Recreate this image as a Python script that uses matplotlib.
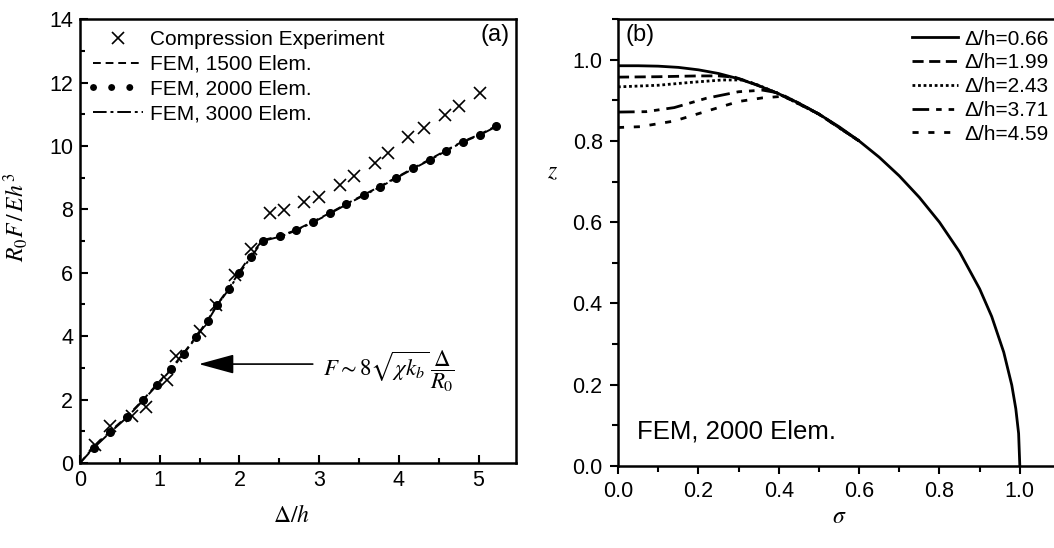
import matplotlib
matplotlib.use("Agg")
import matplotlib.pyplot as plt
from matplotlib.lines import Line2D
from matplotlib.ticker import MultipleLocator

plt.rcParams['font.family'] = ['Liberation Sans', 'DejaVu Sans']
plt.rcParams['mathtext.fontset'] = 'stix'

# (a) compression experiment
exp_x = [0.19, 0.38, 0.65, 0.83, 1.09, 1.21, 1.51, 1.71, 1.95, 2.14, 2.38, 2.56,
         2.81, 3.00, 3.26, 3.44, 3.70, 3.87, 4.12, 4.31, 4.58, 4.76, 5.02]
exp_y = [0.56, 1.16, 1.47, 1.77, 2.63, 3.37, 4.15, 4.98, 5.92, 6.76, 7.87, 7.97,
         8.24, 8.39, 8.76, 9.05, 9.45, 9.78, 10.29, 10.57, 10.97, 11.25, 11.68]

# (a) FEM curves
fem_x = [0.0, 0.17, 0.38, 0.59, 0.79, 0.96, 1.14, 1.30, 1.46, 1.60, 1.72, 1.87,
         2.00, 2.14, 2.29, 2.51, 2.71, 2.92, 3.13, 3.34, 3.56, 3.76, 3.97, 4.18,
         4.39, 4.59, 4.80, 5.02, 5.22]
fem2000_y = [0.0, 0.48, 0.98, 1.45, 1.98, 2.45, 2.95, 3.45, 3.98, 4.48, 4.98, 5.50,
             6.00, 6.50, 7.01, 7.15, 7.34, 7.60, 7.87, 8.16, 8.45, 8.71, 9.00, 9.29,
             9.57, 9.85, 10.13, 10.36, 10.62]
fem1500_y = [0.0, 0.50, 1.00, 1.47, 1.99, 2.47, 2.97, 3.47, 3.99, 4.50, 5.00, 5.52,
             6.03, 6.55, 7.03, 7.16, 7.35, 7.61, 7.88, 8.17, 8.46, 8.72, 9.01, 9.30,
             9.58, 9.86, 10.14, 10.37, 10.63]
fem3000_y = [0.0, 0.47, 0.97, 1.44, 1.97, 2.44, 2.94, 3.44, 3.97, 4.47, 4.97, 5.49,
             5.98, 6.48, 7.00, 7.14, 7.33, 7.59, 7.86, 8.15, 8.44, 8.70, 8.99, 9.28,
             9.56, 9.84, 10.12, 10.35, 10.61]

# (b) profiles; all curves join the 0.66 one on the outer part
sig_066 = [0.0, 0.05, 0.10, 0.15, 0.20, 0.25, 0.30, 0.35, 0.40, 0.45, 0.50, 0.55,
           0.60, 0.65, 0.70, 0.75, 0.80, 0.85, 0.90, 0.93, 0.96, 0.98, 0.99, 0.997, 1.0]
z_066 = [0.985, 0.985, 0.984, 0.981, 0.975, 0.966, 0.953, 0.936, 0.916, 0.893, 0.866,
         0.835, 0.800, 0.760, 0.714, 0.661, 0.600, 0.527, 0.436, 0.368, 0.280, 0.199,
         0.141, 0.080, 0.0]
sig_199 = [0.0, 0.10, 0.20, 0.25, 0.29, 0.33, 0.40, 0.50, 0.60]
z_199 = [0.957, 0.958, 0.960, 0.960, 0.957, 0.944, 0.916, 0.866, 0.800]
sig_243 = [0.0, 0.10, 0.18, 0.26, 0.31, 0.35, 0.40, 0.50, 0.60]
z_243 = [0.933, 0.937, 0.944, 0.950, 0.950, 0.937, 0.916, 0.866, 0.800]
sig_371 = [0.0, 0.07, 0.14, 0.22, 0.30, 0.36, 0.40, 0.45, 0.50, 0.60]
z_371 = [0.871, 0.872, 0.882, 0.905, 0.921, 0.925, 0.918, 0.893, 0.866, 0.800]
sig_459 = [0.0, 0.055, 0.14, 0.22, 0.30, 0.36, 0.40, 0.43, 0.50, 0.60]
z_459 = [0.833, 0.835, 0.849, 0.873, 0.897, 0.906, 0.909, 0.903, 0.866, 0.800]

fig = plt.figure(figsize=(10.54, 5.48), dpi=100)
ax1 = fig.add_axes([0.0759, 0.1551, 0.4137, 0.810])
ax2 = fig.add_axes([0.5863, 0.1496, 0.4194, 0.8157])

# ---- panel (a)
ax1.plot(fem_x, fem1500_y, color='k', lw=1.4, ls=(0, (4, 2.5)))
ax1.plot(fem_x, fem3000_y, color='k', lw=1.4, ls=(0, (7, 2, 1.5, 2)))
ax1.plot(fem_x[1:], fem2000_y[1:], 'o', color='k', ms=5.5, ls='none')
ax1.plot(exp_x, exp_y, 'x', color='k', ms=8, mew=1.2, ls='none')

handles = [
    Line2D([], [], marker='x', color='k', ms=8, mew=1.2, ls='none'),
    Line2D([], [], color='k', lw=1.4, ls=(0, (4, 2.5))),
    Line2D([], [], color='k', lw=5, ls=(0, (0.01, 2.6)), dash_capstyle='round'),
    Line2D([], [], color='k', lw=1.4, ls=(0, (7, 2, 1.5, 2))),
]
labels = ['Compression Experiment', 'FEM, 1500 Elem.', 'FEM, 2000 Elem.',
          'FEM, 3000 Elem.']
ax1.legend(handles, labels, loc='upper left', bbox_to_anchor=(0.03, 0.975),
           frameon=False, fontsize=15, handlelength=2.4, handletextpad=0.35,
           labelspacing=0.27, borderpad=0, borderaxespad=0, numpoints=1)

ax1.annotate('', xy=(1.49, 3.12), xytext=(2.92, 3.12),
             arrowprops=dict(arrowstyle='-|>,head_length=2.2,head_width=0.6',
                             color='k', lw=1.2, shrinkA=0, shrinkB=0,
                             mutation_scale=10))
ax1.text(3.05, 2.9, r'$F\sim 8\sqrt{\chi k_b}\,\dfrac{\Delta}{R_0}$', fontsize=16.5,
         ha='left', va='center')
ax1.text(0.985, 0.965, '(a)', transform=ax1.transAxes, fontsize=17, ha='right',
         va='center')

ax1.set_xlim(0, 5.47)
ax1.set_ylim(0, 14)
ax1.xaxis.set_major_locator(MultipleLocator(1))
ax1.xaxis.set_minor_locator(MultipleLocator(0.5))
ax1.yaxis.set_major_locator(MultipleLocator(2))
ax1.yaxis.set_minor_locator(MultipleLocator(1))
ax1.tick_params(which='both', direction='in', labelsize=15.5, width=1.5, pad=5)
ax1.tick_params(which='major', length=6)
ax1.tick_params(which='minor', length=3.5)
ax1.set_xlabel(r'$\Delta/h$', fontsize=17)
ax1.set_ylabel(r'$R_0F\,/\,Eh^3$', fontsize=17)
ax1.xaxis.set_label_coords(0.485, -0.095)
ax1.yaxis.set_label_coords(-0.115, 0.554)
for s in ax1.spines.values():
    s.set_linewidth(1.8)

# ---- panel (b)
ax2.plot(sig_066, z_066, color='k', lw=2.0, ls='-', label=r'$\Delta$/h=0.66')
ax2.plot(sig_199, z_199, color='k', lw=2.0, ls=(0, (4, 2)), label=r'$\Delta$/h=1.99')
ax2.plot(sig_243, z_243, color='k', lw=2.0, ls=(0, (1, 1)), label=r'$\Delta$/h=2.43')
ax2.plot(sig_371, z_371, color='k', lw=2.0, ls=(0, (6, 2.5, 2, 2.5, 2, 2.5)),
         label=r'$\Delta$/h=3.71')
ax2.plot(sig_459, z_459, color='k', lw=2.0, ls=(0, (2.2, 3.5)), label=r'$\Delta$/h=4.59')

leg2 = ax2.legend(loc='upper left', bbox_to_anchor=(0.865, 0.946),
                  bbox_transform=fig.transFigure, frameon=False, fontsize=15,
                  handlelength=2.2, handletextpad=0.35, labelspacing=0.23,
                  borderpad=0, borderaxespad=0)
for t in leg2.get_texts():
    t.set_text(t.get_text().replace(r'$\Delta$', '\u0394'))

ax2.text(0.017, 0.965, '(b)', transform=ax2.transAxes, fontsize=17, ha='left',
         va='center')
ax2.text(0.043, 0.077, 'FEM, 2000 Elem.', transform=ax2.transAxes, fontsize=18.5,
         ha='left', va='center')

ax2.set_xlim(0, 1.1)
ax2.set_ylim(0, 1.1)
ax2.xaxis.set_major_locator(MultipleLocator(0.2))
ax2.xaxis.set_minor_locator(MultipleLocator(0.1))
ax2.yaxis.set_major_locator(MultipleLocator(0.2))
ax2.yaxis.set_minor_locator(MultipleLocator(0.1))
ax2.tick_params(which='both', direction='out', labelsize=15.5, width=1.5, pad=5)
ax2.tick_params(which='major', length=6)
ax2.tick_params(which='minor', length=4)
ax2.set_xlabel(r'$\sigma$', fontsize=17)
ax2.set_ylabel(r'$z$', fontsize=17, rotation=0)
ax2.xaxis.set_label_coords(0.5, -0.09)
ax2.yaxis.set_label_coords(-0.149, 0.633)
for s in ax2.spines.values():
    s.set_linewidth(1.8)

fig.savefig('out.png', dpi=100)
